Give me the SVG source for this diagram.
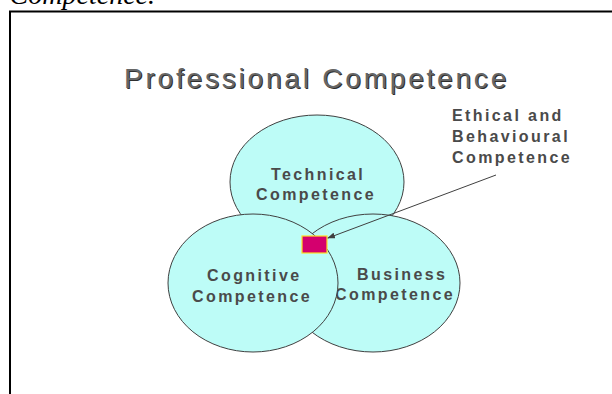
<svg xmlns="http://www.w3.org/2000/svg" width="612" height="394" viewBox="0 0 612 394">
  <style>
    .bubble { fill: #bdfcf7; stroke: #404040; stroke-width: 1; }
    .label { font-family: "Liberation Sans", Arial, sans-serif; font-weight: bold; font-size: 16px; letter-spacing: 2.4px; fill: #4a4a4a; }
    .title { font-family: "Liberation Sans", Arial, sans-serif; font-size: 28px; letter-spacing: 2.8px; }
    .caption { font-family: "Liberation Serif", "Times New Roman", serif; font-style: italic; font-size: 28px; fill: #000; }
  </style>
  <defs>
    <marker id="arrowhead" markerWidth="8" markerHeight="6" refX="7" refY="3" orient="auto" markerUnits="userSpaceOnUse">
      <path d="M0,0 L8,3 L0,6 Z" fill="#404040"/>
    </marker>
  </defs>

  <rect width="612" height="394" fill="#ffffff"/>

  <!-- caption running off the top edge -->
  <text class="caption" x="155" y="4" text-anchor="end">Competence.</text>

  <!-- slide frame -->
  <path d="M10,394 V11.5 H612" fill="none" stroke="#000" stroke-width="2"/>

  <!-- slide title with shadow -->
  <g id="title">
    <text class="title" x="125" y="89" fill="#2e2e2e">Professional Competence</text>
    <text class="title" x="124" y="88" fill="#666666">Professional Competence</text>
  </g>

  <g id="technical">
    <ellipse class="bubble" cx="317" cy="182" rx="87" ry="67"/>
    <text class="label" x="271" y="180">Technical</text>
    <text class="label" x="256" y="200">Competence</text>
  </g>

  <g id="business">
    <ellipse class="bubble" cx="373" cy="283" rx="87" ry="69"/>
    <text class="label" x="357" y="280">Business</text>
    <text class="label" x="335" y="300">Competence</text>
  </g>

  <g id="cognitive">
    <ellipse class="bubble" cx="253" cy="283" rx="85" ry="69"/>
    <text class="label" x="207" y="281">Cognitive</text>
    <text class="label" x="192" y="302">Competence</text>
  </g>

  <g id="ethical">
    <rect x="302" y="236" width="25" height="17" fill="#d4006e" stroke="#ffdd22" stroke-width="1.2"/>
    <text class="label" x="452" y="121">Ethical and</text>
    <text class="label" x="452" y="142">Behavioural</text>
    <text class="label" x="452" y="163">Competence</text>
  </g>

  <g id="connectors">
    <line x1="496" y1="175" x2="328" y2="238" stroke="#404040" stroke-width="1" marker-end="url(#arrowhead)"/>
  </g>
</svg>
